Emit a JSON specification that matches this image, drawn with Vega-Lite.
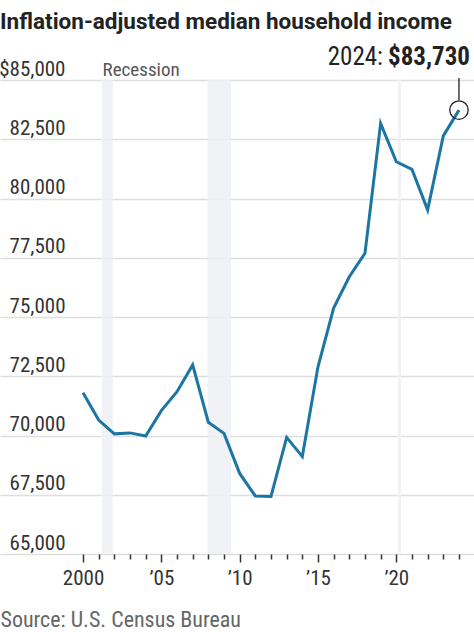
{
  "$schema": "https://vega.github.io/schema/vega-lite/v6.json",
  "width": 474,
  "height": 474,
  "autosize": {"type": "none"},
  "padding": {"left": 0, "right": 0, "top": 80, "bottom": 78},
  "background": "white",
  "config": {
    "view": {"stroke": null},
    "font": "Liberation Sans Narrow, Roboto Condensed, DejaVu Sans Condensed, Roboto, sans-serif"
  },
  "title": {
    "text": "Inflation-adjusted median household income",
    "anchor": "start",
    "frame": "group",
    "font": "Roboto",
    "fontSize": 22.5,
    "fontWeight": "bold",
    "color": "#222222",
    "offset": 12
  },
  "datasets": {
    "income": [
      {"year": 2000, "income": 71800},
      {"year": 2001, "income": 70650},
      {"year": 2002, "income": 70070},
      {"year": 2003, "income": 70110},
      {"year": 2004, "income": 69980},
      {"year": 2005, "income": 71050},
      {"year": 2006, "income": 71850},
      {"year": 2007, "income": 72980},
      {"year": 2008, "income": 70560},
      {"year": 2009, "income": 70090},
      {"year": 2010, "income": 68400},
      {"year": 2011, "income": 67450},
      {"year": 2012, "income": 67430},
      {"year": 2013, "income": 69920},
      {"year": 2014, "income": 69110},
      {"year": 2015, "income": 72900},
      {"year": 2016, "income": 75380},
      {"year": 2017, "income": 76700},
      {"year": 2018, "income": 77690},
      {"year": 2019, "income": 83170},
      {"year": 2020, "income": 81550},
      {"year": 2021, "income": 81230},
      {"year": 2022, "income": 79520},
      {"year": 2023, "income": 82640},
      {"year": 2024, "income": 83730}
    ],
    "recessions": [
      {"start": 2001.2, "end": 2001.9},
      {"start": 2007.95, "end": 2009.45},
      {"start": 2020.1, "end": 2020.3}
    ],
    "label": [
      {"x": 2001.25, "y": 85000, "text": "Recession"}
    ],
    "annot": [
      {"year": 2024, "income": 83730, "top": 85080, "bottom": 84150, "label": "$83,730", "prefix": "2024:"}
    ]
  },
  "layer": [
    {
      "data": {"name": "recessions"},
      "mark": {"type": "rect", "color": "#eef0f3", "opacity": 0.85},
      "encoding": {
        "x": {"field": "start", "type": "quantitative", "scale": {"domain": [1994.7, 2024.96], "nice": false, "zero": false}},
        "x2": {"field": "end"}
      }
    },
    {
      "data": {"name": "income"},
      "mark": {"type": "line", "color": "#1c76a3", "strokeWidth": 3, "strokeJoin": "miter"},
      "encoding": {
        "x": {
          "field": "year",
          "type": "quantitative",
          "scale": {"domain": [1994.7, 2024.96], "nice": false, "zero": false},
          "axis": {
            "values": [2000, 2001, 2002, 2003, 2004, 2005, 2006, 2007, 2008, 2009, 2010, 2011, 2012, 2013, 2014, 2015, 2016, 2017, 2018, 2019, 2020, 2021, 2022, 2023, 2024],
            "tickCount": 40,
            "labelExpr": "datum.value == 2000 ? '2000' : (datum.value % 5 == 0 ? '\u2019' + format(datum.value % 100, '02d') : '')",
            "grid": false,
            "domain": false,
            "tickColor": "#333333",
            "tickWidth": 1.5,
            "tickSize": {"condition": {"test": "datum.value % 5 == 0", "value": 8}, "value": 5},
            "labelFontSize": 21,
            "labelColor": "#333333",
            "labelPadding": 5,
            "labelFlush": false,
            "labelOverlap": false,
            "title": "Source: U.S. Census Bureau",
            "titleFontSize": 22,
            "titleFontWeight": "normal",
            "titleColor": "#666666",
            "titleAnchor": "start",
            "titleAlign": "left",
            "titleBaseline": "alphabetic",
            "titleX": 0,
            "titleY": 72
          }
        },
        "y": {
          "field": "income",
          "type": "quantitative",
          "scale": {"domain": [65000, 85000], "nice": false, "zero": false},
          "axis": {
            "values": [65000, 67500, 70000, 72500, 75000, 77500, 80000, 82500, 85000],
            "tickCount": 20,
            "labelExpr": "datum.value == 85000 ? '$85,000' : format(datum.value, ',')",
            "grid": true,
            "gridColor": "#dedede",
            "gridWidth": 1.5,
            "domain": false,
            "ticks": false,
            "tickSize": 0,
            "labelAlign": "right",
            "labelBaseline": "alphabetic",
            "labelPadding": -65,
            "labelOffset": -5,
            "labelFontSize": 21,
            "labelColor": "#333333",
            "title": null
          }
        }
      }
    },
    {
      "data": {"name": "label"},
      "mark": {"type": "text", "align": "left", "baseline": "alphabetic", "dy": -4, "fontSize": 19, "color": "#555555"},
      "encoding": {
        "x": {"field": "x", "type": "quantitative", "scale": {"domain": [1994.7, 2024.96], "nice": false, "zero": false}},
        "y": {"field": "y", "type": "quantitative", "scale": {"domain": [65000, 85000], "nice": false, "zero": false}},
        "text": {"field": "text"}
      }
    },
    {
      "data": {"name": "annot"},
      "mark": {"type": "rule", "color": "#222222", "strokeWidth": 1.3},
      "encoding": {
        "x": {"field": "year", "type": "quantitative", "scale": {"domain": [1994.7, 2024.96], "nice": false, "zero": false}},
        "y": {"field": "top", "type": "quantitative", "scale": {"domain": [65000, 85000], "nice": false, "zero": false}},
        "y2": {"field": "bottom"}
      }
    },
    {
      "data": {"name": "annot"},
      "mark": {"type": "point", "shape": "circle", "filled": false, "size": 340, "stroke": "#222222", "strokeWidth": 1.3, "opacity": 1},
      "encoding": {
        "x": {"field": "year", "type": "quantitative", "scale": {"domain": [1994.7, 2024.96], "nice": false, "zero": false}},
        "y": {"field": "income", "type": "quantitative", "scale": {"domain": [65000, 85000], "nice": false, "zero": false}}
      }
    },
    {
      "data": {"name": "annot"},
      "mark": {"type": "text", "align": "right", "baseline": "alphabetic", "dx": 11, "dy": -13, "fontSize": 25, "fontWeight": "bold", "color": "#222222"},
      "encoding": {
        "x": {"field": "year", "type": "quantitative", "scale": {"domain": [1994.7, 2024.96], "nice": false, "zero": false}},
        "y": {"field": "top", "type": "quantitative", "scale": {"domain": [65000, 85000], "nice": false, "zero": false}},
        "text": {"field": "label"}
      }
    },
    {
      "data": {"name": "annot"},
      "mark": {"type": "text", "align": "right", "baseline": "alphabetic", "dx": -76, "dy": -13, "fontSize": 25, "color": "#222222"},
      "encoding": {
        "x": {"field": "year", "type": "quantitative", "scale": {"domain": [1994.7, 2024.96], "nice": false, "zero": false}},
        "y": {"field": "top", "type": "quantitative", "scale": {"domain": [65000, 85000], "nice": false, "zero": false}},
        "text": {"field": "prefix"}
      }
    }
  ]
}
